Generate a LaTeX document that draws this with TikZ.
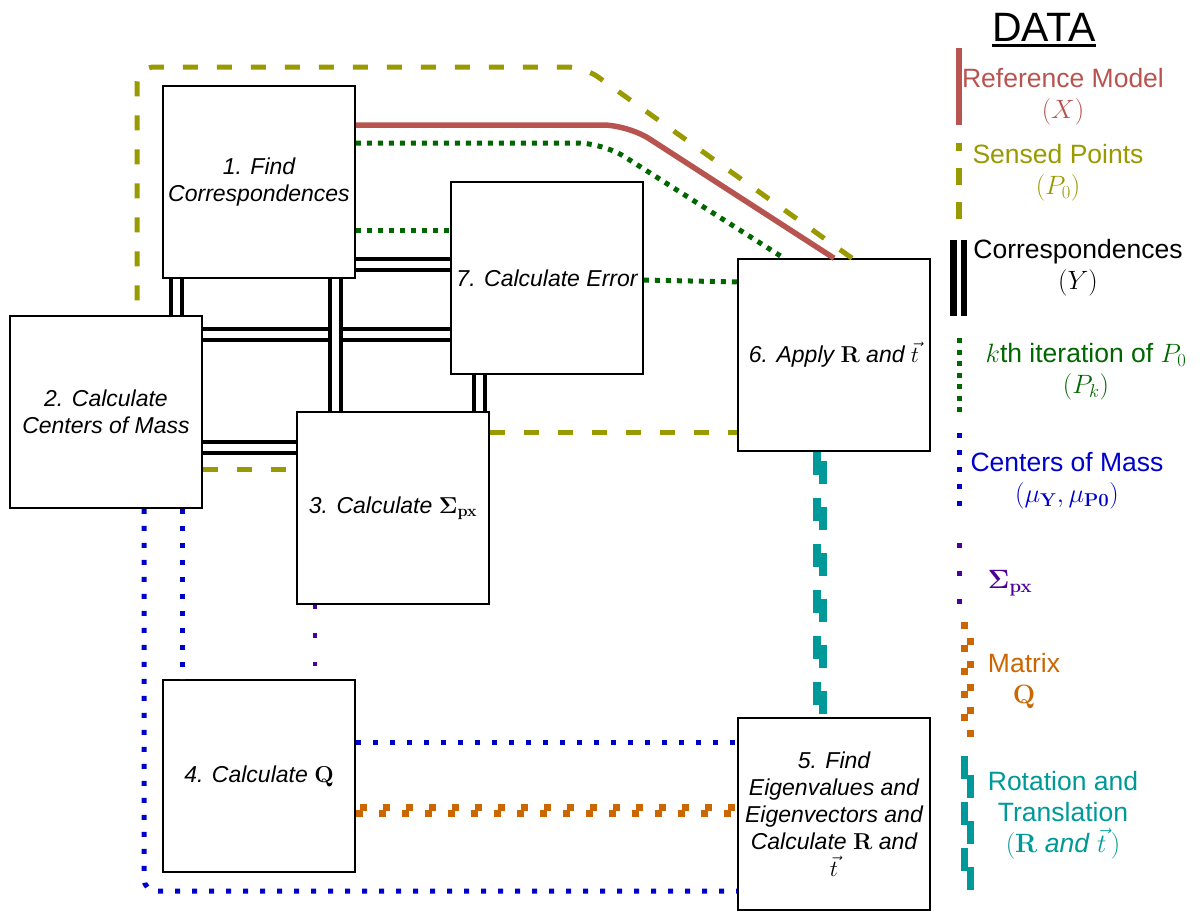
\RequirePackage{fix-cm}
\documentclass[tikz,border=0pt]{standalone}
\usepackage[no-math]{fontspec}
\usepackage{amsmath}
\newfontfamily\helv{Liberation Sans}

\definecolor{refred}{HTML}{B85450}
\definecolor{senseolive}{HTML}{999900}
\definecolor{iterg}{HTML}{006600}
\definecolor{massblue}{HTML}{0000CC}
\definecolor{sigpurple}{HTML}{4C0099}
\definecolor{qorange}{HTML}{CC6600}
\definecolor{rtteal}{HTML}{009999}

\tikzset{
  proc/.style={draw, line width=1.6pt, fill=white, minimum width=192pt,
    minimum height=192pt, inner sep=0pt, align=center,
    font={\helv\itshape\fontsize{23}{27}\selectfont}},
  legtext/.style={font={\helv\fontsize{26.5}{31}\selectfont}, align=center, inner sep=0pt},
  reflink/.style={refred, line width=5.5pt},
  senselink/.style={senseolive, line width=5pt, dash pattern=on 15pt off 19pt},
  corrlink/.style={draw=black, double=white, line width=4pt, double distance=7pt},
  iterlink/.style={iterg, line width=5pt, dash pattern=on 5pt off 6pt},
  masslink/.style={massblue, line width=5pt, dash pattern=on 5pt off 12pt},
  siglink/.style={sigpurple, line width=4.5pt, dash pattern=on 4.5pt off 24pt},
  qlow/.style={qorange, line width=7pt, dash pattern=on 7pt off 16pt},
  qhigh/.style={qorange, line width=6.5pt, dash pattern=on 7pt off 16pt, dash phase=19pt},
  rtleft/.style={rtteal, line width=8pt, dash pattern=on 23pt off 23pt},
  rtright/.style={rtteal, line width=8pt, dash pattern=on 23pt off 23pt, dash phase=37pt},
}

\begin{document}
\begin{tikzpicture}[x=1pt, y=-1pt]
\fill[white] (0,0) rectangle (1204,910);
\useasboundingbox (0,0) rectangle (1204,910);

% process steps
\node[proc] (b1) at (259,182) {1. Find\\Correspondences};
\node[proc] (b7) at (547,278) {7. Calculate Error};
\node[proc] (b6) at (834,355) {6. Apply $\mathbf{R}$ and $\vec{t}$};
\node[proc] (b2) at (106,412) {2. Calculate\\Centers of Mass};
\node[proc] (b3) at (393,508) {3. Calculate $\mathbf{\Sigma_{px}}$};
\node[proc] (b4) at (259,776) {4. Calculate $\mathbf{Q}$};
\node[proc] (b5) at (834,814) {5. Find\\Eigenvalues and\\Eigenvectors and\\Calculate $\mathbf{R}$ and\\$\vec{t}$};

% reference model X
\draw[reflink, rounded corners=25pt] ([yshift=57pt]b1.east) -- (628,125) -- (b6.north);
% k-th iteration P_k
\draw[iterlink, rounded corners=25pt] ([yshift=39pt]b1.east) -- (603,143) -- ([xshift=-50pt]b6.north);
\draw[iterlink] ([yshift=-48pt]b1.east) -- ([yshift=48pt]b7.west);
\draw[iterlink] ([yshift=-2pt]b7.east) -- ([yshift=73pt]b6.west);
% sensed points P_0
\draw[senselink, rounded corners=17pt] ([xshift=18pt]b6.north) -- (584,67) -- (137,67) -- ([xshift=31pt]b2.north);
\draw[senselink] ([yshift=-57pt]b2.east) -- ([yshift=39pt]b3.west);
\draw[senselink] ([yshift=76pt]b3.east) -- ([yshift=-77pt]b6.west);
% correspondences Y
\draw[corrlink] ([yshift=-82pt]b1.east) -- ([yshift=14pt]b7.west);
\draw[corrlink] ([xshift=-83pt]b1.south) -- ([xshift=70pt]b2.north);
\draw[corrlink] ([yshift=78pt]b2.east) -- ([yshift=-56pt]b7.west);
\draw[corrlink] ([xshift=76pt]b1.south) -- ([xshift=-58pt]b3.north);
\draw[corrlink] ([yshift=-35pt]b2.east) -- ([yshift=61pt]b3.west);
\draw[corrlink] ([xshift=-68pt]b7.south) -- ([xshift=86pt]b3.north);
% centers of mass
\draw[masslink, rounded corners=12pt] ([xshift=38pt]b2.south) |- ([yshift=-77pt]b5.west);
\draw[masslink] ([xshift=76pt]b2.south) -- ([xshift=-77pt]b4.north);
\draw[masslink] ([yshift=34pt]b4.east) -- ([yshift=72pt]b5.west);
% Sigma_px
\draw[siglink] ([xshift=-78pt]b3.south) -- ([xshift=56pt]b4.north);
% matrix Q
\draw[qlow] ([yshift=-37pt]b4.east) -- ([yshift=1pt]b5.west);
\draw[qhigh] ([yshift=-31.5pt]b4.east) -- ([yshift=6.5pt]b5.west);
% rotation and translation
\draw[rtleft] ([xshift=-17pt]b6.south) -- ([xshift=-17pt]b5.north);
\draw[rtright] ([xshift=-11pt]b6.south) -- ([xshift=-11pt]b5.north);

% legend
\node[font={\helv\fontsize{41}{48}\selectfont}, inner sep=0pt] (title) at (1044,30)
  {\vtop{\hbox{DATA}\kern3pt\hrule height 3pt}};

\draw[refred, line width=6pt] (959,48) -- (959,125);
\node[legtext, text=refred] (lref) at (1063,97) {Reference Model\\$(X)$};

\draw[senseolive, line width=6pt, dash pattern=on 17pt off 17pt, dash phase=9pt] (959,143) -- (959,221);
\node[legtext, text=senseolive] (lsense) at (1058,173) {Sensed Points\\$(P_0)$};

\draw[black, line width=6.5pt] (953.5,240) -- (953.5,316);
\draw[black, line width=6.5pt] (964,240) -- (964,316);
\node[legtext] (lcorr) at (1078,268) {Correspondences\\$(Y)$};

\draw[iterg, line width=5pt, dash pattern=on 5pt off 6.5pt] (959,338) -- (959,412);
\node[legtext, text=iterg] (liter) at (1086,372) {$k$th iteration of $P_0$\\$(P_k)$};

\draw[massblue, line width=5pt, dash pattern=on 5pt off 12pt] (959,433) -- (959,508);
\node[legtext, text=massblue] (lmass) at (1067,481) {Centers of Mass\\$(\mu_{\mathbf{Y}}, \mu_{\mathbf{P0}})$};

\draw[sigpurple, line width=5pt, dash pattern=on 5pt off 23pt] (959,543) -- (959,604);
\node[legtext, text=sigpurple] (lsig) at (1010,583) {$\mathbf{\Sigma_{px}}$};

\draw[qorange, line width=7pt, dash pattern=on 7pt off 16pt] (964.5,622) -- (964.5,721);
\draw[qorange, line width=7pt, dash pattern=on 7pt off 16pt] (970.5,638) -- (970.5,737);
\node[legtext, text=qorange] (lq) at (1024,681) {Matrix\\$\mathbf{Q}$};

\draw[rtteal, line width=7pt, dash pattern=on 23pt off 23pt] (964.5,756) -- (964.5,871);
\draw[rtteal, line width=7pt, dash pattern=on 23pt off 23pt] (970.5,775) -- (970.5,891);
\node[legtext, text=rtteal] (lrt) at (1063,815) {Rotation and\\Translation\\$(\mathbf{R}$ \textit{and} $\vec{t}\,)$};
\end{tikzpicture}
\end{document}
